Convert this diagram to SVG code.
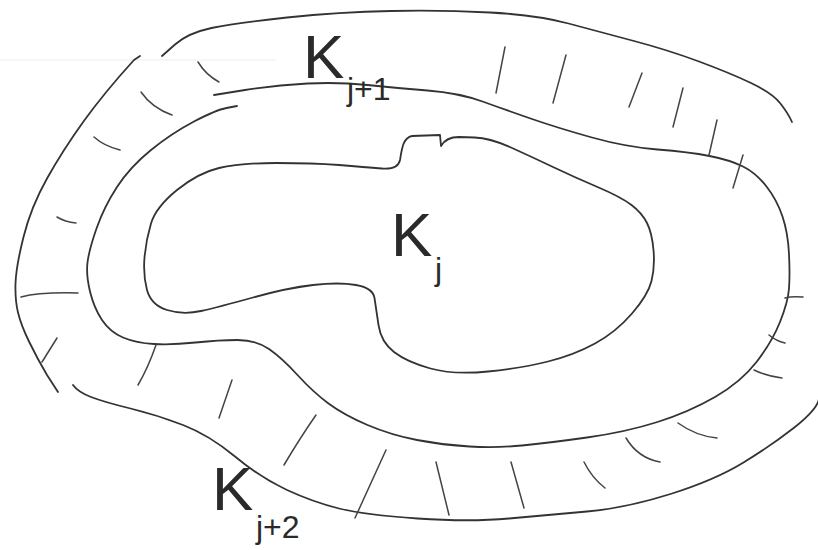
<svg xmlns="http://www.w3.org/2000/svg" width="818" height="550" viewBox="0 0 818 550">
<style>
.c{fill:none;stroke:#333;stroke-width:1.8;stroke-linecap:round;stroke-linejoin:round}
.t{fill:none;stroke:#444;stroke-width:1.5;stroke-linecap:round}
.lbl{font-family:"Liberation Sans",Arial,sans-serif;fill:#2a2a2a}
.k{font-size:62px}
.s{font-size:32px}
</style>
<rect width="818" height="550" fill="#fff"/>
<line x1="0" y1="60" x2="276" y2="60" stroke="#eee" stroke-width="1"/>
<g id="inner">
<path class="c" d="M 441,146 Q 446,137 459,137 L 474.5,137.5 Q 490,138 511,147.5 Q 532,157 553,167 Q 574,177 597.5,187 Q 621,197 631.5,205 Q 642,213 647,223 Q 652,233 653.5,250 Q 655,267 651.5,281 Q 648,295 632,313.5 Q 616,332 595,343.5 Q 574,355 548,361.5 Q 522,368 488,371.5 Q 454,375 430.5,368.5 Q 407,362 394,352 Q 381,342 378.5,325 Q 376,308 374.5,298 Q 373,288 356,285 Q 339,282 313,285 Q 287,288 253,297.5 Q 219,307 201,311 Q 183,315 167,310 Q 151,305 147,290 Q 143,275 144.5,257.5 Q 146,240 151,223.5 Q 156,207 177,190 Q 198,173 219,168 Q 240,163 276.5,163 Q 313,163 339,165 Q 365,167 381.5,168.5 Q 398,170 400,160 C 402,148 403,138 412,136 L 440,135 L 441,146"/>
</g>
<g id="middle">
<path class="c" d="M 214,95 L 245,90 Q 276,85 307.5,83.5 Q 339,82 367.5,85 Q 396,88 427.5,90.5 Q 459,93 482.5,101.5 Q 506,110 532,119 Q 558,128 592,137.5 Q 626,147 657.5,149.5 Q 689,152 709.5,156 Q 730,160 743,166.5 Q 756,173 766.5,186.5 Q 777,200 782.5,216.5 Q 788,233 789,254 Q 790,275 789,288.5 Q 788,302 780,322 Q 772,342 756.5,362 Q 741,382 715,397 Q 689,412 657.5,422 Q 626,432 587,437.5 Q 548,443 522,445.5 Q 496,448 469.5,446.5 Q 443,445 417,440 Q 391,435 367.5,425 Q 344,415 328.5,403.5 Q 313,392 297.5,375 Q 282,358 269,349 Q 256,340 237.5,340 Q 219,340 195.5,342.5 Q 172,345 154,344 Q 136,343 123,337.5 Q 110,332 102,320 Q 94,308 90,291.5 Q 86,275 87.5,262.5 Q 89,250 96.5,228.5 Q 104,207 117,187 Q 130,167 151,150 Q 172,133 194,121.5 Q 216,110 226.5,108 L 237,106"/>
</g>
<g id="outer">
<path class="c" d="M 162,56 L 175,44.5 Q 188,33 211.5,28 Q 235,23 287,17.5 Q 339,12 391,11 Q 443,10 490,12.5 Q 537,15 568.5,23.5 Q 600,32 634,41 Q 668,50 699,61.5 Q 730,73 751,83 Q 772,93 780,103 Q 788,113 792,122"/>
<path class="c" d="M 140,56 L 134,60 Q 104,93 83.5,121.5 Q 63,150 47,178.5 Q 31,207 23.5,237 Q 16,267 15.5,283.5 Q 15,300 18,312.5 Q 21,325 29,341.5 Q 37,358 47,375 L 58,392"/>
<path class="c" d="M 822,392 L 818,402 Q 814,412 793,428.5 Q 772,445 743.5,462.5 Q 715,480 670.5,494 Q 626,508 587,511.5 Q 548,515 509,518.5 Q 470,522 417.5,518.5 Q 365,515 339,508.5 Q 313,502 287,490 Q 261,478 235,456.5 Q 209,435 183,425 Q 157,415 130.5,408.5 Q 104,402 91,397 Q 78,392 73,385"/>
</g>
<g id="hatching">
<path class="t" d="M 198,62 Q 206,75 219,82"/>
<path class="t" d="M 141,92 Q 152,108 172,115"/>
<path class="t" d="M 94,137 Q 104,146 120,150"/>
<path class="t" d="M 57,217 Q 65,222 76,223"/>
<path class="t" d="M 21,297 Q 40,292 78,293"/>
<path class="t" d="M 57,338 L 42,362"/>
<path class="t" d="M 156,345 Q 148,368 138,385"/>
<path class="t" d="M 232,380 L 219,418"/>
<path class="t" d="M 316,415 Q 300,438 284,465"/>
<path class="t" d="M 386,450 L 355,518"/>
<path class="t" d="M 436,462 L 449,515"/>
<path class="t" d="M 511,462 L 524,508"/>
<path class="t" d="M 584,462 Q 592,478 605,488"/>
<path class="t" d="M 626,438 Q 638,458 660,462"/>
<path class="t" d="M 678,423 Q 696,436 717,438"/>
<path class="t" d="M 754,370 Q 766,376 782,378"/>
<path class="t" d="M 769,335 Q 776,341 785,343"/>
<path class="t" d="M 785,298 Q 792,296 803,297"/>
<path class="t" d="M 505,47 L 496,93"/>
<path class="t" d="M 566,55 L 553,103"/>
<path class="t" d="M 642,73 L 629,107"/>
<path class="t" d="M 683,88 L 673,127"/>
<path class="t" d="M 717,120 L 709,155"/>
<path class="t" d="M 743,155 L 733,188"/>
</g>
<g id="labels" class="lbl">
<text x="303" y="78"><tspan class="k">K</tspan><tspan class="s" x="347" y="100">j+1</tspan></text>
<text x="391" y="256"><tspan class="k">K</tspan><tspan class="s" x="435" y="280">j</tspan></text>
<text x="212" y="510"><tspan class="k">K</tspan><tspan class="s" x="256" y="538">j+2</tspan></text>
</g>
</svg>
